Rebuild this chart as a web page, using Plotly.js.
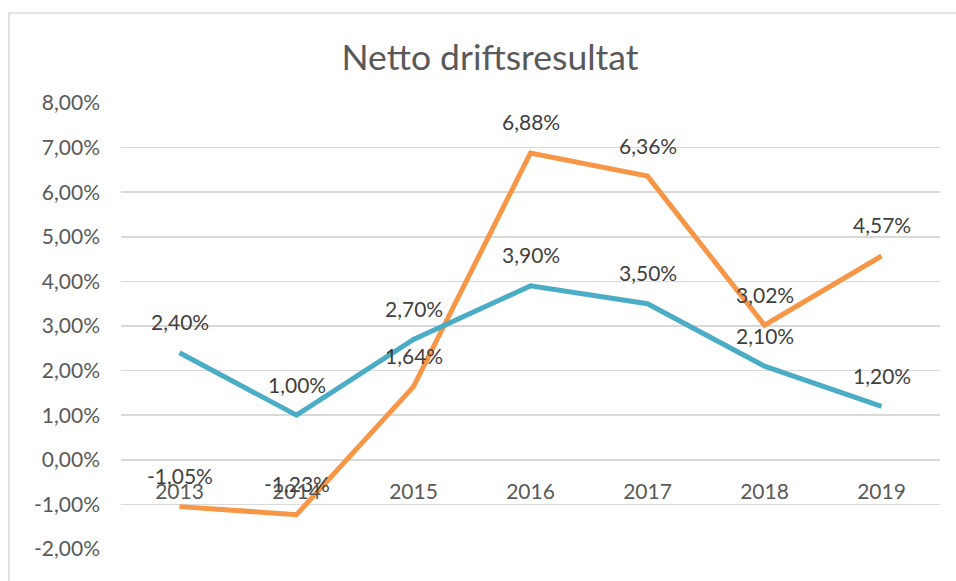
<!DOCTYPE html>
<html>
<head>
<meta charset="utf-8">
<script src="https://cdn.plot.ly/plotly-3.0.1.min.js"></script>
<style>
html,body{margin:0;padding:0;background:#fff;}
#chart{width:956px;height:581px;}
</style>
</head>
<body>
<div id="chart"></div>
<script>
const years = ["2013","2014","2015","2016","2017","2018","2019"];
const seriesOrange = [-1.05, -1.23, 1.64, 6.88, 6.36, 3.02, 4.57];
const seriesBlue = [2.40, 1.00, 2.70, 3.90, 3.50, 2.10, 1.20];
const yTicks = [-2, -1, 0, 1, 2, 3, 4, 5, 6, 7, 8];
const colorOrange = "#F79646";
const colorBlue = "#4BACC6";

const FONT = "Lato, 'Open Sans', sans-serif";

function fmt(v){ return v.toFixed(2).replace(".", ",") + "%"; }

const traces = [
  {x: years, y: seriesOrange, type: "scatter", mode: "lines", name: "Orange",
   line: {color: colorOrange, width: 5}, hoverinfo: "skip"},
  {x: years, y: seriesBlue, type: "scatter", mode: "lines", name: "Blue",
   line: {color: colorBlue, width: 5}, hoverinfo: "skip"}
];

const annotations = [];
[seriesOrange, seriesBlue].forEach(s => {
  s.forEach((v, i) => {
    annotations.push({x: i, y: v, xref: "x", yref: "y", text: fmt(v),
      showarrow: false, yshift: 31, yanchor: "middle", xanchor: "center",
      font: {family: FONT, size: 21, color: "#404040"}});
  });
});

const layout = {
  width: 956, height: 581,
  margin: {l: 121, r: 16, t: 103, b: 32, pad: 0},
  paper_bgcolor: "#ffffff", plot_bgcolor: "#ffffff",
  showlegend: false,
  font: {family: FONT, color: "#595959"},
  title: {text: "Netto driftsresultat", xref: "container", x: 490/956, xanchor: "center",
    yref: "container", y: 1 - 58/581, yanchor: "middle",
    font: {family: FONT, size: 35.5, color: "#595959"}},
  xaxis: {type: "category", range: [-0.5, 6.5], anchor: "free", position: 0.2,
    showgrid: false, zeroline: false, showline: false, ticks: "",
    tickfont: {family: FONT, size: 21, color: "#595959"}, ticklabelstandoff: 17},
  yaxis: {range: [-2, 8], tickmode: "array", tickvals: yTicks, ticktext: yTicks.map(fmt),
    showgrid: true, gridcolor: "#D9D9D9", gridwidth: 1.5, zeroline: true,
    zerolinecolor: "#D9D9D9", zerolinewidth: 1.5, showline: false, ticks: "",
    tickfont: {family: FONT, size: 21, color: "#595959"}, ticklabelstandoff: 20},
  annotations: annotations,
  shapes: [{type: "rect", xref: "paper", yref: "paper",
    x0: (9-121)/819, x1: 1.2, y0: -0.3, y1: 1 + (103-13)/446,
    line: {color: "#D9D9D9", width: 1.5}, layer: "below"}]
};

Plotly.newPlot("chart", traces, layout, {displayModeBar: false, staticPlot: true});
</script>
</body>
</html>
